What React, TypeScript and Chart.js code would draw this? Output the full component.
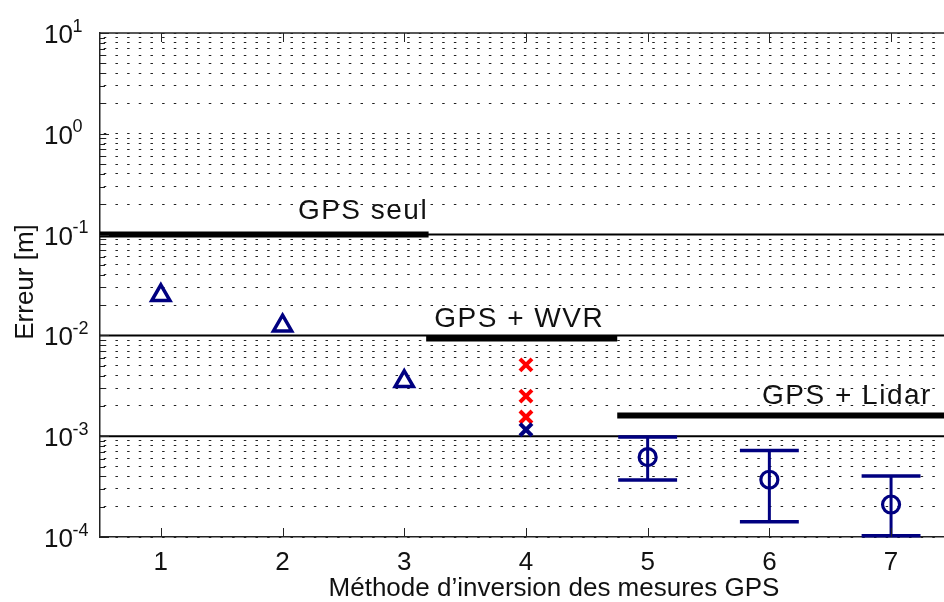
import React, { useEffect, useRef } from 'react';
import { Chart, registerables } from 'chart.js';

Chart.register(...registerables);

// ---------- data ----------
const methodTicks = [1, 2, 3, 4, 5, 6, 7];
const methodTickLabels = ['1', '2', '3', '4', '5', '6', '7'];
const xMin = 0.5;
const xMax = 7.435;

const yDecadeExponents = [-4, -3, -2, -1, 0, 1];
const yMinorMultipliers = [1, 2, 3, 4, 5, 6, 7, 8, 9];

const triangleX = [1, 2, 3];
const triangleY = [0.025, 0.0125, 0.0035];

const redCrossX = [4, 4, 4];
const redCrossY = [0.0051, 0.0025, 0.00155];

const blueCrossX = [4];
const blueCrossY = [0.00116];

const circleX = [5, 6, 7];
const circleY = [0.00062, 0.00037, 0.00021];
const circleLow = [0.000368, 0.000142, 0.000103];
const circleHigh = [0.00098, 0.00072, 0.000403];
const capHalfWidth = 0.242;

const referenceLevels = [0.1, 0.01, 0.001];

const bandLabels = ['GPS seul', 'GPS + WVR', 'GPS + Lidar'];
const bandLevels = [0.1, 0.0093, 0.0016];
const bandStart = [0.5, 3.18, 4.75];
const bandEnd = [3.2, 4.75, 7.5];
// label anchor (data units): left x, baseline level
const bandLabelX = [2.126, 3.247, 5.94];
const bandLabelY = [0.144, 0.0121, 0.00209];

const xAxisTitle = 'Méthode d’inversion des mesures GPS';
const yAxisTitle = 'Erreur [m]';

// ---------- styles ----------
const NAVY = '#000080';
const RED = '#ff0000';
const INK = '#111111';
const FONT = '"Liberation Sans", Arial, Helvetica, sans-serif';

const yTickValues: number[] = [];
yDecadeExponents.forEach((e, i) => {
  if (i === yDecadeExponents.length - 1) {
    yTickValues.push(Math.pow(10, e));
  } else {
    yMinorMultipliers.forEach((m) => {
      yTickValues.push(Number((m * Math.pow(10, e)).toPrecision(3)));
    });
  }
});
const isDecade = (v: number) => Math.abs(Math.log10(v) - Math.round(Math.log10(v))) < 1e-6;

const overlayPlugin = {
  id: 'overlay',
  afterDatasetsDraw(chart: any) {
    const { ctx, scales } = chart;
    const x = scales.x;
    const y = scales.y;
    ctx.save();
    ctx.strokeStyle = NAVY;
    ctx.lineCap = 'butt';
    circleX.forEach((xv, i) => {
      const px = x.getPixelForValue(xv);
      const lo = y.getPixelForValue(circleLow[i]);
      const hi = y.getPixelForValue(circleHigh[i]);
      const hw = x.getPixelForValue(xv + capHalfWidth) - px;
      ctx.lineWidth = 3;
      ctx.beginPath();
      ctx.moveTo(px, lo);
      ctx.lineTo(px, hi);
      ctx.stroke();
      ctx.lineWidth = 3.5;
      ctx.beginPath();
      ctx.moveTo(px - hw, lo);
      ctx.lineTo(px + hw, lo);
      ctx.moveTo(px - hw, hi);
      ctx.lineTo(px + hw, hi);
      ctx.stroke();
    });
    ctx.restore();
  },
  afterDraw(chart: any) {
    const { ctx, scales, chartArea } = chart;
    const x = scales.x;
    const y = scales.y;
    ctx.save();
    // top box line
    ctx.strokeStyle = '#222';
    ctx.lineWidth = 1.5;
    ctx.beginPath();
    ctx.moveTo(chartArea.left, chartArea.top);
    ctx.lineTo(chartArea.right, chartArea.top);
    ctx.stroke();

    // inward ticks
    ctx.lineWidth = 1;
    ctx.beginPath();
    yTickValues.forEach((v) => {
      const py = Math.round(y.getPixelForValue(v)) + 0.5;
      const len = isDecade(v) ? 9 : 5;
      ctx.moveTo(chartArea.left, py);
      ctx.lineTo(chartArea.left + len, py);
    });
    methodTicks.forEach((v) => {
      const px = Math.round(x.getPixelForValue(v)) + 0.5;
      ctx.moveTo(px, chartArea.bottom);
      ctx.lineTo(px, chartArea.bottom - 9);
      ctx.moveTo(px, chartArea.top);
      ctx.lineTo(px, chartArea.top + 9);
    });
    ctx.stroke();

    ctx.fillStyle = INK;
    // y tick labels 10^n
    yDecadeExponents.forEach((e) => {
      const py = y.getPixelForValue(Math.pow(10, e));
      ctx.font = `26px ${FONT}`;
      ctx.textAlign = 'right';
      ctx.textBaseline = 'alphabetic';
      ctx.fillText('10', 73, py + 10);
      ctx.font = `18px ${FONT}`;
      ctx.textAlign = 'left';
      ctx.fillText(String(e), 72.5, py - 1.5);
    });

    // x tick labels
    ctx.font = `26px ${FONT}`;
    ctx.textAlign = 'center';
    methodTicks.forEach((v, i) => {
      ctx.fillText(methodTickLabels[i], x.getPixelForValue(v), 570);
    });

    // axis titles
    ctx.fillText(xAxisTitle, 554, 596);
    ctx.save();
    ctx.translate(33, 282);
    ctx.rotate(-Math.PI / 2);
    ctx.textAlign = 'center';
    ctx.fillText(yAxisTitle, 0, 0);
    ctx.restore();

    // band labels
    ctx.font = `28px ${FONT}`;
    ctx.textAlign = 'left';
    (ctx as any).letterSpacing = '1.5px';
    bandLabels.forEach((t, i) => {
      ctx.fillText(t, x.getPixelForValue(bandLabelX[i]), y.getPixelForValue(bandLabelY[i]));
    });
    (ctx as any).letterSpacing = '0px';
    ctx.restore();
  },
};

export default function App() {
  const ref = useRef<HTMLCanvasElement>(null);
  useEffect(() => {
    const lineSet = (lvl: number, x0: number, x1: number, w: number, order: number) => ({
      type: 'line' as const,
      data: [
        { x: x0, y: lvl },
        { x: x1, y: lvl },
      ],
      borderColor: '#000',
      borderWidth: w,
      pointRadius: 0,
      showLine: true,
      fill: false,
      order,
    });
    const datasets: any[] = [
      ...referenceLevels.map((lvl) => lineSet(lvl, xMin, 7.5, 2, 5)),
      ...bandLevels.map((lvl, i) => lineSet(lvl, bandStart[i], bandEnd[i], 6, 4)),
      {
        type: 'scatter',
        data: triangleX.map((v, i) => ({ x: v, y: triangleY[i] })),
        pointStyle: 'triangle',
        pointRadius: 10.5,
        pointBorderWidth: 3.5,
        pointBorderColor: NAVY,
        pointBackgroundColor: 'rgba(0,0,0,0)',
        showLine: false,
        order: 2,
      },
      {
        type: 'scatter',
        data: redCrossX.map((v, i) => ({ x: v, y: redCrossY[i] })),
        pointStyle: 'crossRot',
        pointRadius: 8.5,
        pointBorderWidth: 4,
        pointBorderColor: RED,
        pointBackgroundColor: RED,
        showLine: false,
        order: 2,
      },
      {
        type: 'scatter',
        data: blueCrossX.map((v, i) => ({ x: v, y: blueCrossY[i] })),
        pointStyle: 'crossRot',
        pointRadius: 8.5,
        pointBorderWidth: 4,
        pointBorderColor: NAVY,
        pointBackgroundColor: NAVY,
        showLine: false,
        order: 1,
      },
      {
        type: 'scatter',
        data: circleX.map((v, i) => ({ x: v, y: circleY[i] })),
        pointStyle: 'circle',
        pointRadius: 8.5,
        pointBorderWidth: 3.2,
        pointBorderColor: NAVY,
        pointBackgroundColor: 'rgba(0,0,0,0)',
        showLine: false,
        order: 1,
      },
    ];

    const chart = new Chart(ref.current as HTMLCanvasElement, {
      type: 'scatter',
      data: { datasets },
      options: {
        animation: false,
        responsive: false,
        maintainAspectRatio: false,
        events: [],
        layout: { autoPadding: false, padding: { top: 33, right: 0, left: 0, bottom: 0 } },
        plugins: {
          legend: { display: false },
          tooltip: { enabled: false },
          title: { display: false },
        },
        scales: {
          x: {
            type: 'linear',
            min: xMin,
            max: xMax,
            afterBuildTicks: (s: any) => {
              s.ticks = methodTicks.map((v) => ({ value: v }));
            },
            afterFit: (s: any) => {
              s.height = 65;
            },
            ticks: { display: false },
            grid: { display: true, color: 'rgba(0,0,0,0)', drawTicks: false },
            border: { display: true, color: '#222', width: 1.5 },
          },
          y: {
            type: 'logarithmic',
            min: 1e-4,
            max: 10,
            afterBuildTicks: (s: any) => {
              s.ticks = yTickValues.map((v) => ({ value: v, major: isDecade(v) }));
            },
            afterFit: (s: any) => {
              s.width = 100;
            },
            ticks: { display: false },
            grid: { display: true, color: '#222', lineWidth: 1, drawTicks: false },
            border: { display: true, color: '#222', width: 1.5, dash: [2.5, 9.17], dashOffset: 8.4 },
          },
        },
      },
      plugins: [overlayPlugin],
    } as any);
    return () => chart.destroy();
  }, []);

  return (
    <div style={{ position: 'fixed', left: 0, top: 0, width: 944, height: 602, background: '#fff' }}>
      <canvas ref={ref} width={944} height={602} style={{ display: 'block' }} />
    </div>
  );
}
